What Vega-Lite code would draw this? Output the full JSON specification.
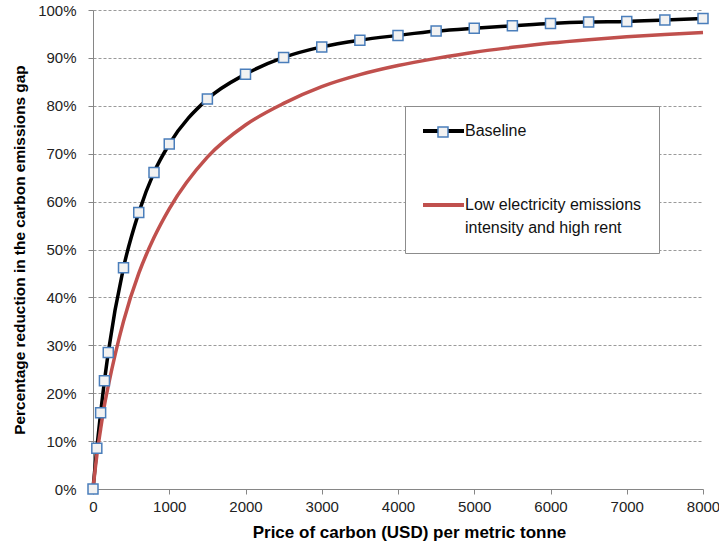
{
  "$schema": "https://vega.github.io/schema/vega-lite/v6.json",
  "width": 610,
  "height": 479,
  "autosize": {"type": "none"},
  "padding": {"left": 93, "top": 10, "right": 16, "bottom": 63},
  "background": "white",
  "config": {
    "view": {"stroke": null},
    "font": "Liberation Sans",
    "axis": {
      "domainColor": "#868686",
      "tickColor": "#868686",
      "tickSize": 5,
      "labelColor": "#222222",
      "labelFont": "Liberation Sans",
      "labelFontSize": 15,
      "titleColor": "#000000",
      "titleFont": "Liberation Sans",
      "titleFontWeight": "bold"
    }
  },
  "datasets": {
    "curves": [
      {"series": "Baseline", "price": 0, "reduction": 0},
      {"series": "Baseline", "price": 50, "reduction": 0.085},
      {"series": "Baseline", "price": 100, "reduction": 0.159},
      {"series": "Baseline", "price": 150, "reduction": 0.226},
      {"series": "Baseline", "price": 200, "reduction": 0.285},
      {"series": "Baseline", "price": 400, "reduction": 0.462},
      {"series": "Baseline", "price": 600, "reduction": 0.577},
      {"series": "Baseline", "price": 800, "reduction": 0.661},
      {"series": "Baseline", "price": 1000, "reduction": 0.72},
      {"series": "Baseline", "price": 1500, "reduction": 0.814},
      {"series": "Baseline", "price": 2000, "reduction": 0.866},
      {"series": "Baseline", "price": 2500, "reduction": 0.901},
      {"series": "Baseline", "price": 3000, "reduction": 0.923},
      {"series": "Baseline", "price": 3500, "reduction": 0.937},
      {"series": "Baseline", "price": 4000, "reduction": 0.947},
      {"series": "Baseline", "price": 4500, "reduction": 0.956},
      {"series": "Baseline", "price": 5000, "reduction": 0.962},
      {"series": "Baseline", "price": 5500, "reduction": 0.967},
      {"series": "Baseline", "price": 6000, "reduction": 0.972},
      {"series": "Baseline", "price": 6500, "reduction": 0.975},
      {"series": "Baseline", "price": 7000, "reduction": 0.976},
      {"series": "Baseline", "price": 7500, "reduction": 0.979},
      {"series": "Baseline", "price": 8000, "reduction": 0.982},
      {"series": "Low electricity emissions intensity and high rent", "price": 0, "reduction": 0},
      {"series": "Low electricity emissions intensity and high rent", "price": 50, "reduction": 0.07},
      {"series": "Low electricity emissions intensity and high rent", "price": 100, "reduction": 0.125},
      {"series": "Low electricity emissions intensity and high rent", "price": 150, "reduction": 0.175},
      {"series": "Low electricity emissions intensity and high rent", "price": 200, "reduction": 0.215},
      {"series": "Low electricity emissions intensity and high rent", "price": 400, "reduction": 0.35},
      {"series": "Low electricity emissions intensity and high rent", "price": 600, "reduction": 0.45},
      {"series": "Low electricity emissions intensity and high rent", "price": 800, "reduction": 0.525},
      {"series": "Low electricity emissions intensity and high rent", "price": 1000, "reduction": 0.585},
      {"series": "Low electricity emissions intensity and high rent", "price": 1500, "reduction": 0.693},
      {"series": "Low electricity emissions intensity and high rent", "price": 2000, "reduction": 0.76},
      {"series": "Low electricity emissions intensity and high rent", "price": 2500, "reduction": 0.805},
      {"series": "Low electricity emissions intensity and high rent", "price": 3000, "reduction": 0.84},
      {"series": "Low electricity emissions intensity and high rent", "price": 3500, "reduction": 0.865},
      {"series": "Low electricity emissions intensity and high rent", "price": 4000, "reduction": 0.884},
      {"series": "Low electricity emissions intensity and high rent", "price": 4500, "reduction": 0.899},
      {"series": "Low electricity emissions intensity and high rent", "price": 5000, "reduction": 0.912},
      {"series": "Low electricity emissions intensity and high rent", "price": 5500, "reduction": 0.922},
      {"series": "Low electricity emissions intensity and high rent", "price": 6000, "reduction": 0.931},
      {"series": "Low electricity emissions intensity and high rent", "price": 6500, "reduction": 0.938},
      {"series": "Low electricity emissions intensity and high rent", "price": 7000, "reduction": 0.944},
      {"series": "Low electricity emissions intensity and high rent", "price": 7500, "reduction": 0.949},
      {"series": "Low electricity emissions intensity and high rent", "price": 8000, "reduction": 0.953}
    ]
  },
  "data": {"name": "curves"},
  "encoding": {
    "x": {
      "field": "price",
      "type": "quantitative",
      "scale": {"domain": [0, 8000], "nice": false},
      "axis": {
        "title": "Price of carbon  (USD) per metric tonne",
        "titleFontSize": 17,
        "titlePadding": 10,
        "titleX": 316,
        "values": [0, 1000, 2000, 3000, 4000, 5000, 6000, 7000, 8000],
        "format": "d",
        "grid": false,
        "labelPadding": 5,
        "labelFlush": false
      }
    },
    "y": {
      "field": "reduction",
      "type": "quantitative",
      "scale": {"domain": [0, 1], "nice": false},
      "axis": {
        "title": "Percentage reduction in the carbon emissions gap",
        "titleFontSize": 15.4,
        "titlePadding": 10,
        "values": [0, 0.1, 0.2, 0.3, 0.4, 0.5, 0.6, 0.7, 0.8, 0.9, 1],
        "format": ".0%",
        "grid": true,
        "gridColor": "#9a9a9a",
        "gridDash": [3, 2],
        "gridWidth": 1,
        "labelPadding": 12,
        "labelFlush": false
      }
    }
  },
  "layer": [
    {
      "mark": {"type": "line", "strokeWidth": 3.5, "interpolate": "monotone"},
      "encoding": {
        "color": {
          "field": "series",
          "type": "nominal",
          "scale": {
            "domain": ["Baseline", "Low electricity emissions intensity and high rent"],
            "range": ["#000000", "#c0504d"]
          },
          "legend": {
            "title": null,
            "orient": "none",
            "legendX": 312,
            "legendY": 96,
            "padding": 17,
            "fillColor": "white",
            "strokeColor": "#8c8c8c",
            "symbolType": "M-1.4,0H6.8",
            "symbolSize": 100,
            "symbolStrokeWidth": 4,
            "labelFont": "Liberation Sans",
            "labelFontSize": 16,
            "labelColor": "#111111",
            "labelOffset": 27,
            "labelLimit": 400,
            "rowPadding": 58,
            "labelExpr": "datum.value === 'Baseline' ? 'Baseline' : ['Low electricity emissions', 'intensity and high rent']",
            "encode": {
              "labels": {
                "update": {
                  "lineHeight": {"value": 23}
                }
              }
            }
          }
        }
      }
    },
    {
      "transform": [{"filter": "datum.series === 'Baseline'"}],
      "mark": {
        "type": "point",
        "shape": "square",
        "filled": true,
        "fill": "#f2f2f2",
        "stroke": "#4a7ebb",
        "strokeWidth": 1.5,
        "size": 100,
        "opacity": 1
      },
      "encoding": {
        "shape": {
          "field": "series",
          "type": "nominal",
          "scale": {"domain": ["Baseline"], "range": ["square"]},
          "legend": {
            "title": null,
            "orient": "none",
            "legendX": 344,
            "legendY": 116,
            "padding": 0,
            "symbolSize": 100,
            "labelExpr": "''",
            "encode": {
              "symbols": {
                "update": {
                  "fill": {"value": "#f2f2f2"},
                  "stroke": {"value": "#4a7ebb"},
                  "strokeWidth": {"value": 1.5},
                  "opacity": {"value": 1},
                  "fillOpacity": {"value": 1},
                  "strokeOpacity": {"value": 1}
                }
              }
            }
          }
        }
      }
    }
  ]
}
